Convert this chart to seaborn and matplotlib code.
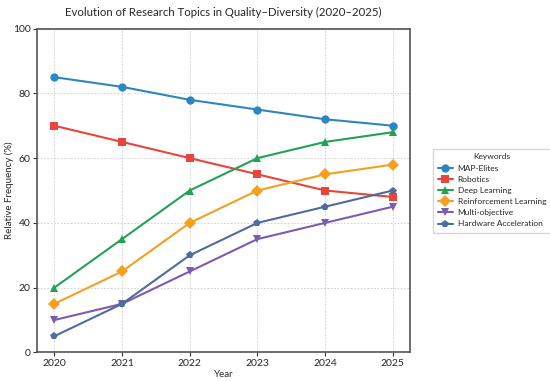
import pandas as pd
import seaborn as sns
import matplotlib.pyplot as plt

years = [2020, 2021, 2022, 2023, 2024, 2025]
map_elites = [85, 82, 78, 75, 72, 70]
robotics = [70, 65, 60, 55, 50, 48]
deep_learning = [20, 35, 50, 60, 65, 68]
reinforcement = [15, 25, 40, 50, 55, 58]
multi_objective = [10, 15, 25, 35, 40, 45]
hardware = [5, 15, 30, 40, 45, 50]

keywords = ["MAP-Elites", "Robotics", "Deep Learning", "Reinforcement Learning",
            "Multi-objective", "Hardware Acceleration"]
series = [map_elites, robotics, deep_learning, reinforcement, multi_objective, hardware]
colors = ["#2e86c1", "#e8453c", "#23a155", "#f5a020", "#7b5cb0", "#4e6d9e"]
markers = ["o", "s", "^", "D", "v", "p"]

# long format for seaborn
df = pd.DataFrame({
    "Year": years * len(keywords),
    "Frequency": [v for s in series for v in s],
    "Keyword": [k for k in keywords for _ in years],
})

sns.set_style("ticks")
plt.rcParams["font.family"] = ["Lato", "DejaVu Sans"]

fig, ax = plt.subplots(figsize=(5.5, 3.81), dpi=100)
sns.lineplot(data=df, x="Year", y="Frequency", hue="Keyword", style="Keyword",
             palette=colors, markers=markers, dashes=False, markersize=6,
             linewidth=1.5, markeredgewidth=0, ax=ax)

ax.set_ylim(0, 100)
ax.set_xticks(years)
ax.set_title("Evolution of Research Topics in Quality\u2013Diversity (2020\u20132025)", fontsize=8.2, pad=9)
ax.set_xlabel("Year", fontsize=7, labelpad=1)
ax.set_ylabel("Relative Frequency (%)", fontsize=7)
ax.yaxis.set_label_coords(-0.062, 0.5)
ax.tick_params(labelsize=7.5, color="#333333", length=3, pad=2)
ax.grid(True, linestyle=(0, (2, 2)), color="#cccccc", linewidth=0.6)
for sp in ax.spines.values():
    sp.set_color("#555555")
    sp.set_linewidth(1.2)

leg = ax.legend(title="Keywords", loc="center left", bbox_to_anchor=(1.05, 0.5),
                fontsize=6, title_fontsize=6, frameon=True, borderpad=0.6,
                handlelength=1.8, handletextpad=0.6, labelspacing=0.5)
leg.get_frame().set_edgecolor("#cccccc")

fig.subplots_adjust(left=0.068, right=0.745, top=0.925, bottom=0.075)
fig.savefig("out.png", dpi=100)
